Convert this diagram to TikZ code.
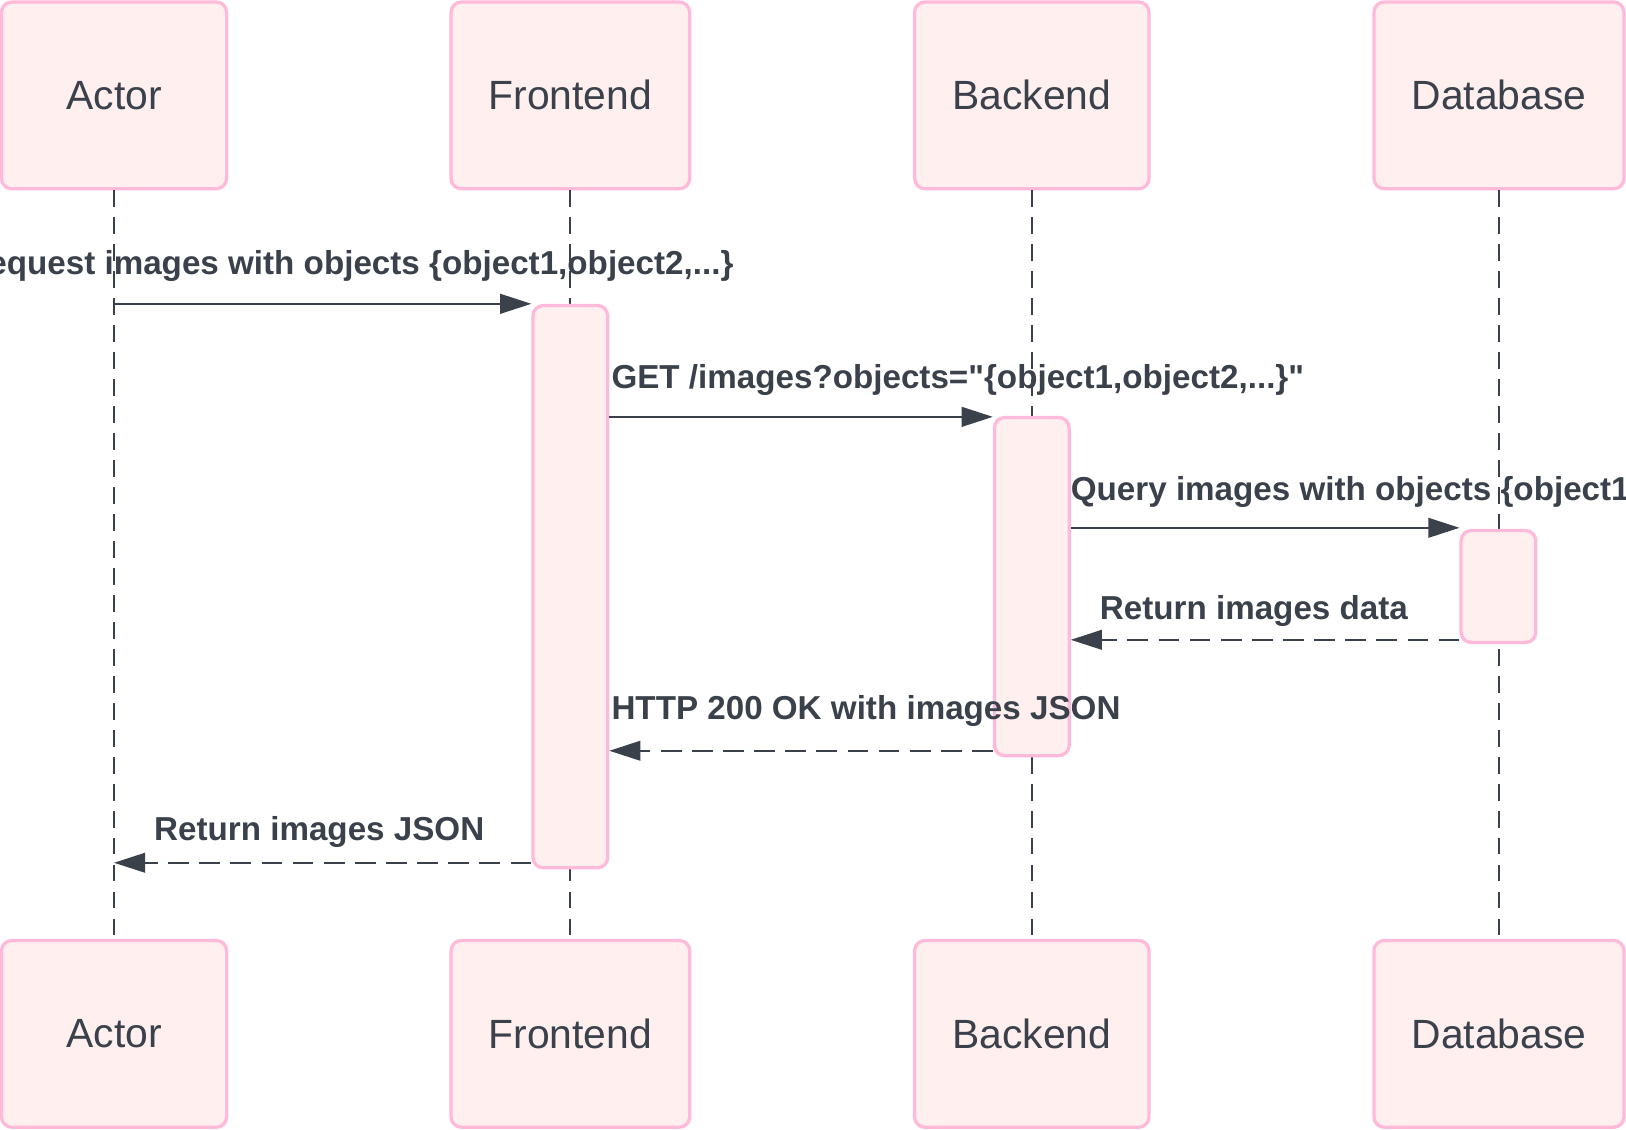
\documentclass[tikz,border=0pt]{standalone}
\usepackage{fontspec}
\setmainfont{Liberation Sans}[Ligatures=TeXOff]
\usetikzlibrary{arrows.meta}
\definecolor{ink}{HTML}{3A414A}
\definecolor{pinkline}{HTML}{FFBAD9}
\definecolor{pinkfill}{HTML}{FFEFEF}
\begin{document}
\begin{tikzpicture}[x=0.01cm,y=-0.01cm,
  party/.style={draw=pinkline,fill=pinkfill,line width=0.9pt,rounded corners=0.1cm,minimum height=1.8cm,inner sep=0pt,text=ink,font=\fontsize{11.2}{13}\selectfont},
  act/.style={draw=pinkline,fill=pinkfill,line width=0.9pt,rounded corners=0.1cm,minimum width=0.72cm,anchor=north,inner sep=0pt},
  life/.style={draw=ink,line width=0.5pt,dash pattern=on 0.16cm off 0.1cm},
  msg/.style={draw=ink,line width=0.5pt,-{Triangle[length=0.3cm,width=0.19cm]}},
  reply/.style={msg,dash pattern=on 0.2cm off 0.1cm},
  lbl/.style={text=ink,font=\fontsize{9.1}{11}\selectfont\bfseries,inner sep=0pt}]
\useasboundingbox (0,0) rectangle (1568,1089);
% participants, top and bottom
\node[party,minimum width=2.17cm] (actor) at (110,92) {Actor};
\node[party,minimum width=2.3cm] (front) at (550,92) {Frontend};
\node[party,minimum width=2.26cm] (back) at (995,92) {Backend};
\node[party,minimum width=2.41cm] (db) at (1445.5,92) {Database};
\node[party,minimum width=2.17cm] (actor2) at (110,997) {Actor};
\node[party,minimum width=2.3cm] (front2) at (550,997) {Frontend};
\node[party,minimum width=2.26cm] (back2) at (995,997) {Backend};
\node[party,minimum width=2.41cm] (db2) at (1445.5,997) {Database};
% lifelines
\path[life] (actor) -- (actor2);
\path[life] (front) -- (front2);
\path[life] (back) -- (back2);
\path[life] (db) -- (db2);
% activations
\node[act,minimum height=5.42cm] (fa) at (550,293) {};
\node[act,minimum height=3.26cm] (ba) at (995,401) {};
\node[act,minimum height=1.08cm] (da) at (1445,510) {};
% message levels
\coordinate (m1) at (110,293);
\coordinate (m2) at (550,402);
\coordinate (m3) at (995,509);
\coordinate (m4) at (1445,617);
\coordinate (m5) at (995,724);
\coordinate (m6) at (550,832);
% messages
\path[msg] (m1) -- (m1 -| fa.west);
\path[msg] (m2 -| fa.east) -- (m2 -| ba.west);
\path[msg] (m3 -| ba.east) -- (m3 -| da.west);
\path[reply] (m4 -| da.west) -- (m4 -| ba.east);
\path[reply] (m5 -| ba.west) -- (m5 -| fa.east);
\path[reply] (m6 -| fa.west) -- (m6 -| actor.south);
% labels
\node[lbl,anchor=base east] (l1) at (708,265) {Request images with objects \{object1,object2,...\}};
\node[lbl,anchor=base west] (l2) at (589,375) {GET /images?objects="\{object1,object2,...\}"};
\node[lbl,anchor=base west] (l3) at (1032,483) {Query images with objects \{object1,object2,...\}};
\node[lbl,anchor=base west] (l4) at (1060,597) {Return images data};
\node[lbl,anchor=base west] (l5) at (589,694) {HTTP 200 OK with images JSON};
\node[lbl,anchor=base west] (l6) at (148,811) {Return images JSON};
\end{tikzpicture}
\end{document}
